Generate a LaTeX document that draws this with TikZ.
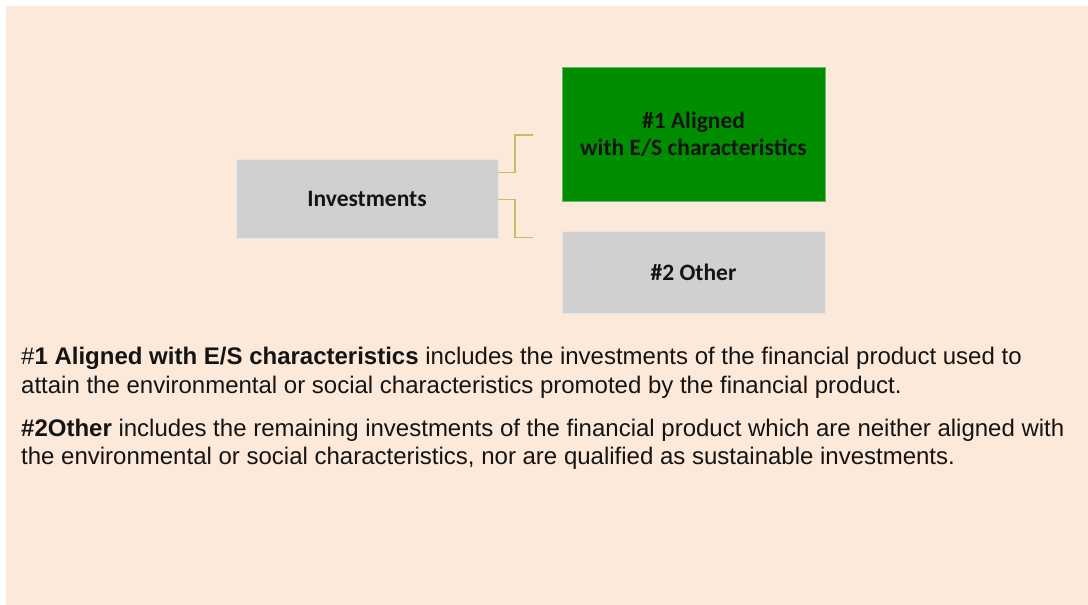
\documentclass[tikz,border=0pt]{standalone}
\usepackage{fontspec}
\setmainfont{Liberation Sans}
\newfontfamily\boxfont{Carlito}
\definecolor{bgpeach}{RGB}{253,233,217}
\definecolor{boxgray}{RGB}{208,208,208}
\definecolor{boxgreen}{RGB}{0,142,0}
\definecolor{linkgold}{RGB}{201,186,104}
\definecolor{txt}{RGB}{20,20,20}
\begin{document}
\begin{tikzpicture}[x=1pt,y=-1pt,
  catbox/.style={inner sep=0pt, outer sep=0pt, minimum width=263pt, font=\boxfont\bfseries\fontsize{23.5}{27}\selectfont, text=txt, align=center},
  graybox/.style={catbox, fill=boxgray, draw=boxgray!50!white, line width=0.8pt},
  greenbox/.style={catbox, fill=boxgreen, draw=boxgreen!60!white, line width=0.8pt},
  link/.style={draw=linkgold, line width=1.5pt},
  bodyline/.style={anchor=base west, inner sep=0pt, font=\fontsize{24}{29}\selectfont, text=txt}
]
\useasboundingbox (0,0) rectangle (1088,605);
\fill[white] (0,0) rectangle (1088,605);
\fill[bgpeach] (6,6) rectangle (1088,605);

% boxes
\node[graybox, minimum width=262pt, minimum height=79pt] (inv) at (367,198.5) {Investments};
\node[greenbox, minimum height=134pt] (al) at (693.5,134) {\#1 Aligned\\with E/S characteristics};
\node[graybox, minimum height=82pt] (oth) at (693.5,272) {\#2 Other};

% connectors
\coordinate (ta) at (533,135);
\coordinate (tb) at (533,237.3);
\draw[link] ([yshift=25.8pt]inv.east) -- ++(17,0) |- (ta);
\draw[link] ([yshift=-0.8pt]inv.east) -- ++(17,0) |- (tb);

% explanatory text
\node[bodyline] (p1a) at (21,364) {\#\textbf{1 Aligned with E/S characteristics} includes the investments of the financial product used to};
\node[bodyline] (p1b) at (21,393) {attain the environmental or social characteristics promoted by the financial product.};
\node[bodyline] (p2a) at (21,436) {\textbf{\#2Other} includes the remaining investments of the financial product which are neither aligned with};
\node[bodyline] (p2b) at (21,464) {the environmental or social characteristics, nor are qualified as sustainable investments.};
\end{tikzpicture}
\end{document}
